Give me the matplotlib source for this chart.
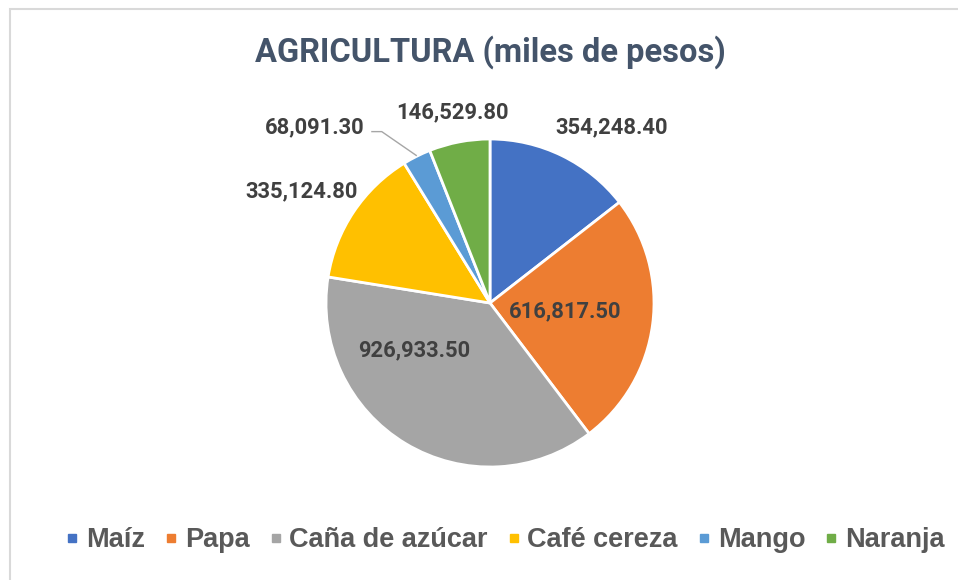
import matplotlib.pyplot as plt
from matplotlib.lines import Line2D
from matplotlib.patches import Rectangle

# Data (miles de pesos)
categories = ["Maíz", "Papa", "Caña de azúcar", "Café cereza", "Mango", "Naranja"]
values = [354248.40, 616817.50, 926933.50, 335124.80, 68091.30, 146529.80]
colors = ["#4472C4", "#ED7D31", "#A5A5A5", "#FFC000", "#5B9BD5", "#70AD47"]

# label positions (pie radius = 1), Excel style best-fit placement
label_pos = [(0.74, 1.07), (0.46, -0.05), (-0.46, -0.29),
             (-1.15, 0.68), (-1.07, 1.07), (-0.23, 1.16)]

fig = plt.figure(figsize=(9.58, 5.8), dpi=100)

# chart border
fig.patches.append(Rectangle((10 / 958, -0.05), 1.1, 1 - 9 / 580 + 0.05,
                             transform=fig.transFigure, fill=False,
                             edgecolor="#D9D9D9", linewidth=1.5))

fig.text(490 / 958, 1 - 52 / 580, "AGRICULTURA (miles de pesos)",
         ha="center", va="center", fontsize=23.5, fontweight="bold",
         family="Roboto", color="#44546A")

ax = fig.add_axes([326 / 958, 1 - 467 / 580, 328 / 958, 328 / 580])
wedges, _ = ax.pie(values, colors=colors, startangle=90, counterclock=False,
                   radius=1, wedgeprops=dict(edgecolor="white", linewidth=2))
ax.set_xlim(-1, 1)
ax.set_ylim(-1, 1)
ax.set_aspect("equal")
ax.axis("off")

for v, (x, y) in zip(values, label_pos):
    ax.text(x, y, f"{v:,.2f}", ha="center", va="center", fontsize=15.8,
            fontweight="bold", family="Roboto", color="#404040", clip_on=False)

# leader line for Mango
ax.plot([-0.72, -0.66, -0.45], [1.045, 1.045, 0.90], color="#A6A6A6",
        linewidth=1, clip_on=False)

handles = [Line2D([], [], marker="s", linestyle="none", markersize=6,
                  markerfacecolor=c, markeredgecolor=c) for c in colors]
fig.legend(handles, categories, loc="center", ncol=6,
           bbox_to_anchor=(505 / 958, 1 - 540 / 580), frameon=False,
           prop=dict(family="Liberation Sans", weight="bold", size=19.5),
           labelcolor="#595959", handlelength=0.5, handletextpad=0.25,
           columnspacing=0.72)

fig.savefig("out.png", dpi=100)
